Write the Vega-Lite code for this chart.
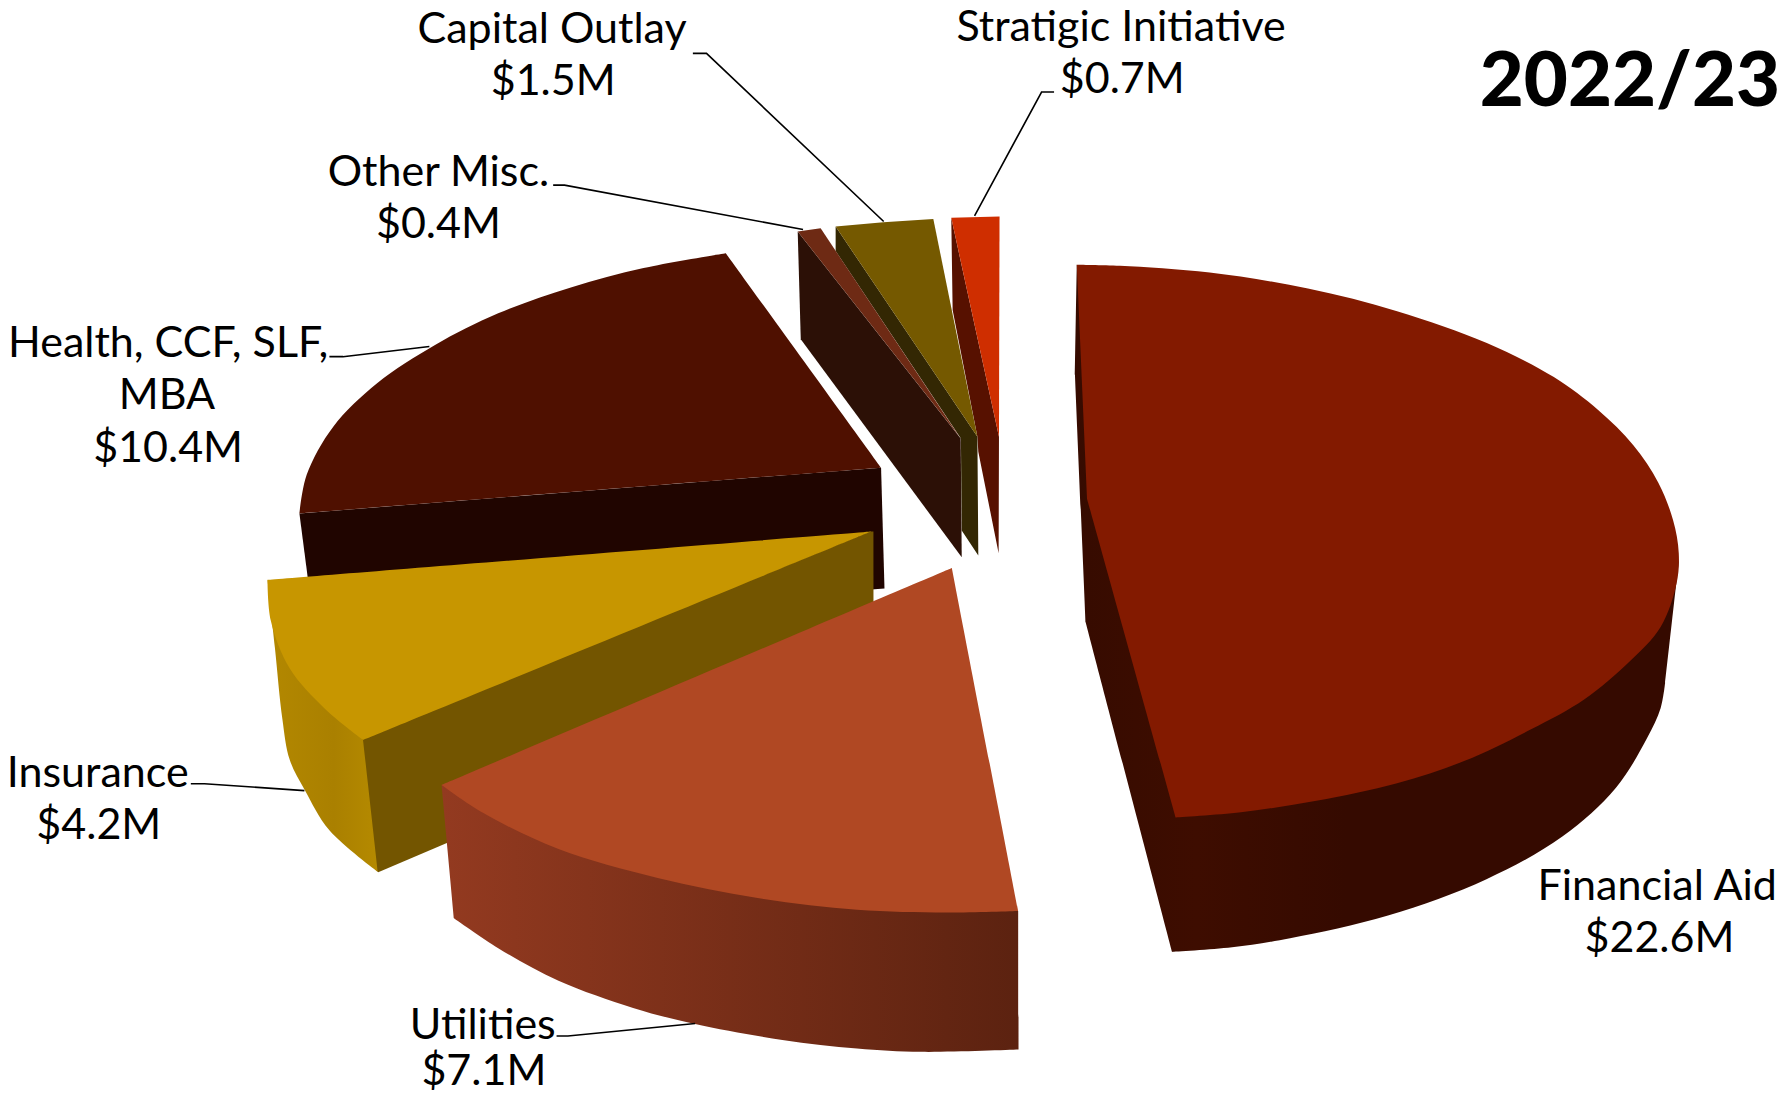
{
"$schema":"https://vega.github.io/schema/vega-lite/v6.json",
"width":1781,"height":1095,"padding":0,
"autosize":{"type":"none"},
"background":"white",
"config":{"view":{"stroke":null}},
"datasets":{
"shapes":[
{"part":"fa_side","x":948,"y":233},{"part":"fa_side","x":948,"y":233},{"part":"fa_side","x":948,"y":233},{"part":"fa_side","x":946.4,"y":330},{"part":"fa_side","x":946.4,"y":330},{"part":"fa_side","x":946.4,"y":330},{"part":"fa_side","x":955.8,"y":547.8},{"part":"fa_side","x":955.8,"y":547.8},{"part":"fa_side","x":955.8,"y":547.8},{"part":"fa_side","x":1032,"y":838},{"part":"fa_side","x":1032,"y":838},{"part":"fa_side","x":1032,"y":838},{"part":"fa_side","x":1084.7,"y":834},{"part":"fa_side","x":1135.8,"y":826},{"part":"fa_side","x":1222,"y":806},{"part":"fa_side","x":1308.7,"y":774},{"part":"fa_side","x":1375.5,"y":736.5},{"part":"fa_side","x":1422.7,"y":693.4},{"part":"fa_side","x":1450,"y":650},{"part":"fa_side","x":1462,"y":623.6},{"part":"fa_side","x":1466,"y":601},{"part":"fa_side","x":1466,"y":601},{"part":"fa_side","x":1466,"y":601},{"part":"fa_side","x":1478,"y":494.4},{"part":"fa_side","x":1478,"y":494.4},{"part":"fa_side","x":1478,"y":494.4},
{"part":"fa_top","x":948,"y":233},{"part":"fa_top","x":948,"y":233},{"part":"fa_top","x":948,"y":233},{"part":"fa_top","x":986,"y":234},{"part":"fa_top","x":1065,"y":240},{"part":"fa_top","x":1151.5,"y":254},{"part":"fa_top","x":1230,"y":274},{"part":"fa_top","x":1309,"y":302},{"part":"fa_top","x":1368,"y":332},{"part":"fa_top","x":1407,"y":361},{"part":"fa_top","x":1438,"y":392},{"part":"fa_top","x":1460,"y":425},{"part":"fa_top","x":1473,"y":458},{"part":"fa_top","x":1478,"y":487},{"part":"fa_top","x":1476,"y":514},{"part":"fa_top","x":1462,"y":552},{"part":"fa_top","x":1434,"y":583},{"part":"fa_top","x":1395,"y":615.5},{"part":"fa_top","x":1348,"y":642},{"part":"fa_top","x":1289,"y":670},{"part":"fa_top","x":1230,"y":689.5},{"part":"fa_top","x":1159,"y":705},{"part":"fa_top","x":1092.5,"y":715},{"part":"fa_top","x":1035,"y":719.6},{"part":"fa_top","x":1035,"y":719.6},{"part":"fa_top","x":1035,"y":719.6},{"part":"fa_top","x":957,"y":439},{"part":"fa_top","x":957,"y":439},{"part":"fa_top","x":957,"y":439},
{"part":"strat_side","x":837.5,"y":191.8},{"part":"strat_side","x":838.7,"y":272.9},{"part":"strat_side","x":860.5,"y":384.4},{"part":"strat_side","x":861.3,"y":397.6},{"part":"strat_side","x":879.2,"y":487},{"part":"strat_side","x":879.5,"y":384.4},
{"part":"strat_top","x":837.5,"y":191.8},{"part":"strat_top","x":880,"y":190.7},{"part":"strat_top","x":879.5,"y":384.4},
{"part":"cap_side","x":735.7,"y":199.5},{"part":"cap_side","x":735.7,"y":221},{"part":"cap_side","x":846,"y":386},{"part":"cap_side","x":846.7,"y":467},{"part":"cap_side","x":861.3,"y":489},{"part":"cap_side","x":860.5,"y":384.4},
{"part":"cap_top","x":735.7,"y":199.5},{"part":"cap_top","x":777.7,"y":195.7},{"part":"cap_top","x":821.7,"y":192.7},{"part":"cap_top","x":860.5,"y":384.4},
{"part":"oth_side","x":702.3,"y":203.9},{"part":"oth_side","x":705,"y":298.7},{"part":"oth_side","x":846.7,"y":490.6},{"part":"oth_side","x":845.8,"y":386},
{"part":"oth_top","x":702.3,"y":203.9},{"part":"oth_top","x":722.5,"y":201},{"part":"oth_top","x":845,"y":385},
{"part":"hl_side","x":263.6,"y":452},{"part":"hl_side","x":775.7,"y":411.7},{"part":"hl_side","x":778.7,"y":518},{"part":"hl_side","x":767,"y":519},{"part":"hl_side","x":271,"y":509},
{"part":"hl_top","x":639,"y":223},{"part":"hl_top","x":639,"y":223},{"part":"hl_top","x":639,"y":223},{"part":"hl_top","x":775.7,"y":411.7},{"part":"hl_top","x":775.7,"y":411.7},{"part":"hl_top","x":775.7,"y":411.7},{"part":"hl_top","x":263.6,"y":452},{"part":"hl_top","x":263.6,"y":452},{"part":"hl_top","x":263.6,"y":452},{"part":"hl_top","x":270,"y":418},{"part":"hl_top","x":293.4,"y":375.6},{"part":"hl_top","x":332,"y":337.4},{"part":"hl_top","x":383,"y":303.7},{"part":"hl_top","x":438.6,"y":275.8},{"part":"hl_top","x":502.6,"y":253},{"part":"hl_top","x":566.6,"y":236},{"part":"hl_top","x":639,"y":223},{"part":"hl_top","x":639,"y":223},{"part":"hl_top","x":639,"y":223},
{"part":"ins_dark","x":318,"y":650},{"part":"ins_dark","x":766,"y":468},{"part":"ins_dark","x":769,"y":468},{"part":"ins_dark","x":769,"y":530},{"part":"ins_dark","x":396,"y":741},{"part":"ins_dark","x":333,"y":768},{"part":"ins_dark","x":330,"y":765},
{"part":"ins_top","x":235.5,"y":510.5},{"part":"ins_top","x":235.5,"y":510.5},{"part":"ins_top","x":235.5,"y":510.5},{"part":"ins_top","x":767,"y":468},{"part":"ins_top","x":767,"y":468},{"part":"ins_top","x":767,"y":468},{"part":"ins_top","x":319.6,"y":651.5},{"part":"ins_top","x":319.6,"y":651.5},{"part":"ins_top","x":319.6,"y":651.5},{"part":"ins_top","x":286,"y":624},{"part":"ins_top","x":255,"y":588.4},{"part":"ins_top","x":238.5,"y":546.8},{"part":"ins_top","x":235.5,"y":510.5},{"part":"ins_top","x":235.5,"y":510.5},{"part":"ins_top","x":235.5,"y":510.5},
{"part":"ins_side","x":235.5,"y":510.5},{"part":"ins_side","x":235.5,"y":510.5},{"part":"ins_side","x":235.5,"y":510.5},{"part":"ins_side","x":319.6,"y":651.5},{"part":"ins_side","x":319.6,"y":651.5},{"part":"ins_side","x":319.6,"y":651.5},{"part":"ins_side","x":332.7,"y":767.7},{"part":"ins_side","x":332.7,"y":767.7},{"part":"ins_side","x":332.7,"y":767.7},{"part":"ins_side","x":290,"y":731},{"part":"ins_side","x":268.3,"y":695.5},{"part":"ins_side","x":255,"y":668.7},{"part":"ins_side","x":248.6,"y":633},{"part":"ins_side","x":242,"y":570},{"part":"ins_side","x":235.5,"y":510.5},{"part":"ins_side","x":235.5,"y":510.5},{"part":"ins_side","x":235.5,"y":510.5},
{"part":"ut_side","x":388.8,"y":691},{"part":"ut_side","x":388.8,"y":691},{"part":"ut_side","x":388.8,"y":691},{"part":"ut_side","x":399.7,"y":808.5},{"part":"ut_side","x":399.7,"y":808.5},{"part":"ut_side","x":399.7,"y":808.5},{"part":"ut_side","x":439,"y":835},{"part":"ut_side","x":491.7,"y":863.5},{"part":"ut_side","x":557.4,"y":887.3},{"part":"ut_side","x":612,"y":901.6},{"part":"ut_side","x":688.8,"y":915.5},{"part":"ut_side","x":754.5,"y":923},{"part":"ut_side","x":811.4,"y":926},{"part":"ut_side","x":896.8,"y":924},{"part":"ut_side","x":896.8,"y":924},{"part":"ut_side","x":896.8,"y":924},{"part":"ut_side","x":896.4,"y":802},{"part":"ut_side","x":896.4,"y":802},{"part":"ut_side","x":896.4,"y":802},
{"part":"ut_top","x":838,"y":500},{"part":"ut_top","x":838,"y":500},{"part":"ut_top","x":838,"y":500},{"part":"ut_top","x":896.4,"y":802},{"part":"ut_top","x":896.4,"y":802},{"part":"ut_top","x":896.4,"y":802},{"part":"ut_top","x":833,"y":803.4},{"part":"ut_top","x":754.5,"y":801},{"part":"ut_top","x":667,"y":790.6},{"part":"ut_top","x":579,"y":773},{"part":"ut_top","x":491.7,"y":747.5},{"part":"ut_top","x":426,"y":716},{"part":"ut_top","x":388.8,"y":691},{"part":"ut_top","x":388.8,"y":691},{"part":"ut_top","x":388.8,"y":691},{"part":"ut_top","x":838,"y":500},{"part":"ut_top","x":838,"y":500},{"part":"ut_top","x":838,"y":500}
],
"leaders":[
{"to":"Capital Outlay","x":610,"y":47},{"to":"Capital Outlay","x":622,"y":47},{"to":"Capital Outlay","x":778,"y":195},
{"to":"Stratigic Initiative","x":928,"y":81},{"to":"Stratigic Initiative","x":917,"y":81},{"to":"Stratigic Initiative","x":858,"y":190},
{"to":"Other Misc.","x":487,"y":163},{"to":"Other Misc.","x":497,"y":163},{"to":"Other Misc.","x":707,"y":202},
{"to":"Health","x":290,"y":314},{"to":"Health","x":302,"y":314},{"to":"Health","x":378,"y":305},
{"to":"Insurance","x":168,"y":690},{"to":"Insurance","x":180,"y":690},{"to":"Insurance","x":268,"y":696},
{"to":"Utilities","x":490,"y":912},{"to":"Utilities","x":500,"y":912},{"to":"Utilities","x":612,"y":901}
],
"labels":[
{"t":"Capital Outlay","x":486,"y":26},{"t":"$1.5M","x":487,"y":72},
{"t":"Stratigic Initiative","x":987,"y":25},{"t":"$0.7M","x":988,"y":70},
{"t":"Other Misc.","x":386,"y":152},{"t":"$0.4M","x":386,"y":198},
{"t":"Health, CCF, SLF,","x":148,"y":303},{"t":"MBA","x":147,"y":349},{"t":"$10.4M","x":148,"y":395},
{"t":"Insurance","x":86,"y":681},{"t":"$4.2M","x":87,"y":727},
{"t":"Utilities","x":425,"y":903},{"t":"$7.1M","x":426,"y":944},
{"t":"Financial Aid","x":1459,"y":781},{"t":"$22.6M","x":1461,"y":827}
],
"title":[{"t":"2022/23","x":1435,"y":73}]
},
"encoding":{
"x":{"field":"x","type":"quantitative","axis":null,"scale":{"domain":[0,1568],"nice":false,"zero":false}},
"y":{"field":"y","type":"quantitative","axis":null,"scale":{"domain":[964,0],"nice":false,"zero":false}}
},
"layer":[
{"data":{"name":"shapes"},
"transform":[{"filter":{"field":"part","oneOf":["strat_side","strat_top","cap_side","cap_top","oth_side","oth_top","hl_side","ins_dark"]}}],
"mark":{"type":"line","filled":true},
"encoding":{"order":{"value":null},"color":{"field":"part","type":"nominal","legend":null,"scale":{"domain":["strat_side","strat_top","cap_side","cap_top","oth_side","oth_top","hl_side","ins_dark"],"range":["#571100","#cf2e00","#332703","#755900","#2c1006","#6e2a14","#200500","#735500"]}}}},
{"data":{"name":"shapes"},
"transform":[{"filter":{"field":"part","equal":"hl_top"}}],
"mark":{"type":"line","filled":true,"interpolate":"catmull-rom","color":"#4f1000"},
"encoding":{"order":{"value":null}}},
{"data":{"name":"shapes"},
"transform":[{"filter":{"field":"part","equal":"ins_side"}}],
"mark":{"type":"line","filled":true,"interpolate":"catmull-rom","color":{"gradient":"linear","x1":0,"x2":1,"y1":0,"y2":0,"stops":[{"offset":0,"color":"#b38800"},{"offset":0.6,"color":"#aa8000"},{"offset":1,"color":"#b58a00"}]}},
"encoding":{"order":{"value":null}}},
{"data":{"name":"shapes"},
"transform":[{"filter":{"field":"part","equal":"ins_top"}}],
"mark":{"type":"line","filled":true,"interpolate":"catmull-rom","color":"#c79600"},
"encoding":{"order":{"value":null}}},
{"data":{"name":"shapes"},
"transform":[{"filter":{"field":"part","equal":"fa_side"}}],
"mark":{"type":"line","filled":true,"interpolate":"catmull-rom","color":{"gradient":"linear","x1":0,"x2":1,"y1":0,"y2":0,"stops":[{"offset":0,"color":"#360b00"},{"offset":0.2,"color":"#3e0d00"},{"offset":0.45,"color":"#350a00"},{"offset":1,"color":"#350a00"}]}},
"encoding":{"order":{"value":null}}},
{"data":{"name":"shapes"},
"transform":[{"filter":{"field":"part","equal":"fa_top"}}],
"mark":{"type":"line","filled":true,"interpolate":"catmull-rom","color":"#831a00"},
"encoding":{"order":{"value":null}}},
{"data":{"name":"shapes"},
"transform":[{"filter":{"field":"part","equal":"ut_side"}}],
"mark":{"type":"line","filled":true,"interpolate":"catmull-rom","color":{"gradient":"linear","x1":0,"x2":1,"y1":0,"y2":0,"stops":[{"offset":0,"color":"#933a20"},{"offset":1,"color":"#5c2210"}]}},
"encoding":{"order":{"value":null}}},
{"data":{"name":"shapes"},
"transform":[{"filter":{"field":"part","equal":"ut_top"}}],
"mark":{"type":"line","filled":true,"interpolate":"catmull-rom","color":"#b04823"},
"encoding":{"order":{"value":null}}},
{"data":{"name":"leaders"},
"mark":{"type":"line","color":"black","strokeWidth":1.6},
"encoding":{"order":{"value":null},"detail":{"field":"to"}}},
{"data":{"name":"labels"},
"mark":{"type":"text","font":"Lato","fontSize":43,"align":"center","baseline":"middle","color":"black"},
"encoding":{"text":{"field":"t"}}},
{"data":{"name":"title"},
"mark":{"type":"text","font":"Lato","fontWeight":900,"fontSize":76,"align":"center","baseline":"middle","color":"black"},
"encoding":{"text":{"field":"t"}}}
]
}
